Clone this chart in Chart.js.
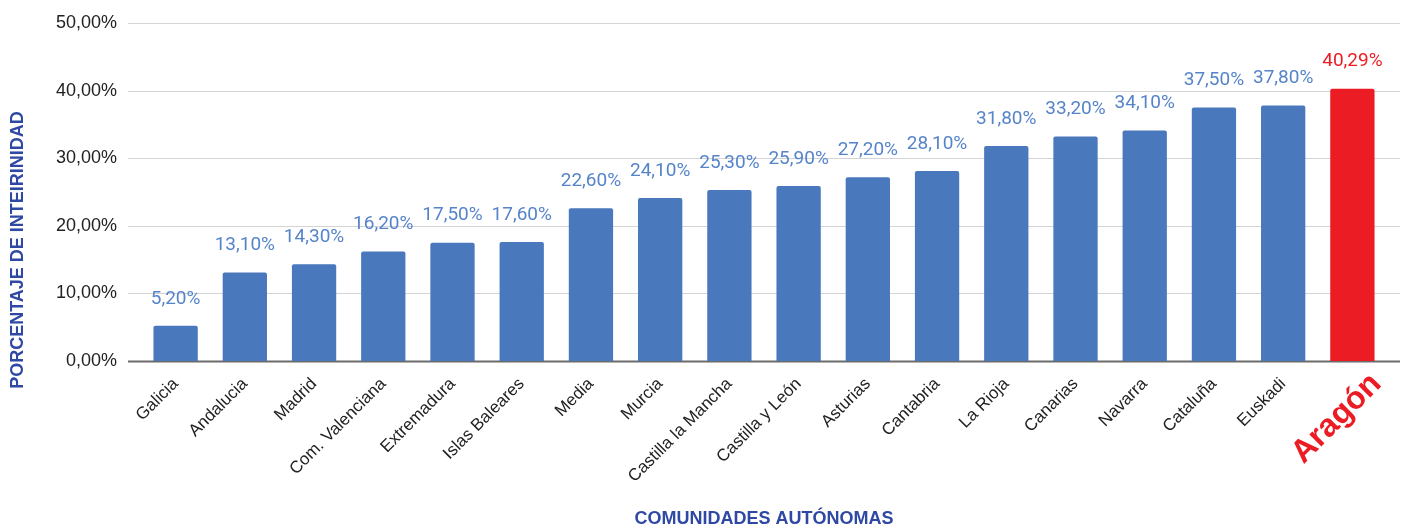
<!DOCTYPE html>
<html>
<head>
<meta charset="utf-8">
<script src="https://cdn.jsdelivr.net/npm/chart.js@4/dist/chart.umd.min.js"></script>
<style>
html,body{margin:0;padding:0;background:#fff;}
canvas{display:block;}
</style>
</head>
<body>
<canvas id="c" width="1403" height="528"></canvas>
<script>
const categories = ['Galicia','Andalucia','Madrid','Com. Valenciana','Extremadura','Islas Baleares','Media','Murcia','Castilla la Mancha','Castilla y León','Asturias','Cantabria','La Rioja','Canarias','Navarra','Cataluña','Euskadi','Aragón'];
const values = [5.2,13.1,14.3,16.2,17.5,17.6,22.6,24.1,25.3,25.9,27.2,28.1,31.8,33.2,34.1,37.5,37.8,40.29];
const highlight = 'Aragón';
const yTitle = 'PORCENTAJE DE INTEIRINIDAD';
const xTitle = 'COMUNIDADES AUTÓNOMAS';

const BLUE = '#4A78BD';
const RED = '#EC1C24';
const LABEL_BLUE = '#5584C9';
const TITLE_BLUE = '#2E48A3';
const FONT = '"Liberation Sans", Arial, sans-serif';

const fmt = v => v.toFixed(2).replace('.', ',') + '%';

const gridPlugin = {
  id: 'extGrid',
  beforeDatasetsDraw(chart) {
    const {ctx, scales} = chart;
    const y = scales.y;
    const x0 = 128, x1 = 1400;
    ctx.save();
    y.ticks.forEach(t => {
      const py = Math.round(y.getPixelForValue(t.value)) + 0.5;
      ctx.beginPath();
      ctx.moveTo(x0, py);
      ctx.lineTo(x1, py);
      if (t.value === 0) { ctx.strokeStyle = '#6b6b6b'; ctx.lineWidth = 2; }
      else { ctx.strokeStyle = '#d4d4d4'; ctx.lineWidth = 1; }
      ctx.stroke();
    });
    ctx.restore();
  }
};

const labelPlugin = {
  id: 'valueLabels',
  afterDatasetsDraw(chart) {
    const {ctx} = chart;
    const meta = chart.getDatasetMeta(0);
    ctx.save();
    ctx.font = '19px Roboto';
    ctx.textAlign = 'center';
    ctx.textBaseline = 'middle';
    meta.data.forEach((bar, i) => {
      ctx.fillStyle = categories[i] === highlight ? RED : LABEL_BLUE;
      ctx.fillText(fmt(values[i]), bar.x, bar.y - 27);
    });
    ctx.restore();
  }
};

const titlePlugin = {
  id: 'axisTitles',
  afterDraw(chart) {
    const {ctx, scales, chartArea} = chart;
    ctx.save();
    ctx.font = 'bold 18px ' + FONT;
    ctx.fillStyle = TITLE_BLUE;
    ctx.textAlign = 'center';
    ctx.textBaseline = 'middle';
    ctx.fillText(xTitle, 764, 519);
    ctx.save();
    ctx.translate(18, 250);
    ctx.rotate(-Math.PI / 2);
    ctx.fillText(yTitle, 0, 0);
    ctx.restore();
    // highlighted category label
    const idx = categories.indexOf(highlight);
    const tx = scales.x.getPixelForValue(idx);
    ctx.font = 'bold 32px ' + FONT;
    ctx.fillStyle = RED;
    ctx.textAlign = 'right';
    ctx.textBaseline = 'middle';
    ctx.translate(tx + 24, chartArea.bottom + 18);
    ctx.rotate(-Math.PI / 4);
    ctx.fillText(highlight, 0, 0);
    ctx.restore();
  }
};

new Chart(document.getElementById('c'), {
  type: 'bar',
  data: {
    labels: categories,
    datasets: [{
      data: values,
      backgroundColor: categories.map(c => c === highlight ? RED : BLUE),
      borderRadius: {topLeft: 2, topRight: 2},
      borderSkipped: 'bottom',
      barPercentage: 0.64,
      categoryPercentage: 1
    }]
  },
  options: {
    responsive: false,
    animation: false,
    devicePixelRatio: 1,
    layout: { padding: { top: 23, right: 16, left: 0, bottom: 0 } },
    plugins: { legend: { display: false }, tooltip: { enabled: false } },
    scales: {
      y: {
        min: 0, max: 50,
        ticks: {
          stepSize: 10,
          padding: 24,
          color: '#222',
          font: { family: FONT, size: 18 },
          callback: v => fmt(v)
        },
        grid: { display: false, drawTicks: false },
        border: { display: false },
        afterFit: s => { s.width = 141; s.paddingTop = 0; s.paddingBottom = 0; }
      },
      x: {
        ticks: {
          autoSkip: false,
          minRotation: 45,
          maxRotation: 45,
          padding: 13,
          color: '#222',
          font: { family: FONT, size: 17 },
          callback: function(v, i) { return categories[i] === highlight ? '' : categories[i]; }
        },
        grid: { display: false, drawTicks: false },
        border: { display: false },
        afterFit: s => { s.height = 167; s.paddingLeft = 0; s.paddingRight = 0; }
      }
    }
  },
  plugins: [gridPlugin, labelPlugin, titlePlugin]
});
</script>
</body>
</html>
